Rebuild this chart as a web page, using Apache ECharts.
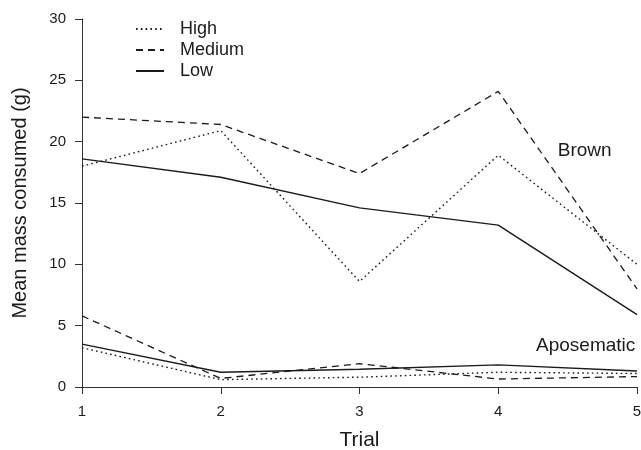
<!DOCTYPE html>
<html><head><meta charset="utf-8">
<script src="https://cdn.jsdelivr.net/npm/echarts@6/dist/echarts.min.js"></script>
<style>html,body{margin:0;padding:0;background:#fff}#c{width:641px;height:450px}</style>
</head><body><div id="c"></div>
<script>
var trials = [1, 2, 3, 4, 5];
var yTicks = [0, 5, 10, 15, 20, 25, 30];
var brownHigh = [18.0, 20.9, 8.6, 18.9, 10.0];
var brownMedium = [22.0, 21.4, 17.4, 24.1, 8.0];
var brownLow = [18.6, 17.1, 14.6, 13.2, 5.9];
var aposHigh = [3.2, 0.6, 0.8, 1.2, 1.1];
var aposMedium = [5.8, 0.7, 1.9, 0.65, 0.85];
var aposLow = [3.5, 1.2, 1.45, 1.8, 1.3];
var levelNames = ['High', 'Medium', 'Low'];
var groupLabels = ['Brown', 'Aposematic'];
var groupLabelAnchors = [[4.623, 19.26], [4.63, 3.38]];

var F = 'Liberation Sans, Arial, Helvetica, sans-serif';
var C = '#1a1a1a';
var styles = {
  High: {type: [1.6, 3.2], width: 1.4},
  Medium: {type: [7, 5], width: 1.3},
  Low: {type: 'solid', width: 1.4}
};
function pairs(v){ return trials.map(function(t,i){return [t, v[i]];}); }
function mk(name, vals){
  return {
    name: name, type: 'line', data: pairs(vals), symbol: 'none',
    lineStyle: {color: C, width: styles[name].width, type: styles[name].type},
    itemStyle: {color: C}, silent: true, animation: false
  };
}
var series = [
  mk('High', brownHigh), mk('Medium', brownMedium), mk('Low', brownLow),
  mk('High', aposHigh), mk('Medium', aposMedium), mk('Low', aposLow),
  {
    type: 'scatter', symbolSize: 0, silent: true, animation: false,
    itemStyle: {opacity: 1, color: C},
    data: groupLabelAnchors.map(function(p,i){return {value: p, name: groupLabels[i]};}),
    label: {show: true, formatter: '{b}', position: 'inside', color: C, opacity: 1, fontSize: 19, fontFamily: F}
  }
];
var chart = echarts.init(document.getElementById('c'), null, {renderer: 'canvas'});
chart.setOption({
  animation: false,
  backgroundColor: '#fff',
  grid: {left: 82, right: 4, top: 19, bottom: 63, containLabel: false, outerBoundsMode: 'none'},
  legend: {
    data: levelNames, orient: 'vertical', left: 135, top: 20, padding: 0,
    itemWidth: 28, itemHeight: 12, itemGap: 3,
    itemStyle: {color: 'rgba(0,0,0,0)', borderWidth: 0, opacity: 0},
    textStyle: {color: C, fontSize: 18, fontFamily: F, padding: [0,0,0,11]}
  },
  xAxis: {
    type: 'value', min: 1, max: 5, interval: 1,
    name: 'Trial', nameLocation: 'middle', nameGap: 43,
    nameTextStyle: {color: C, fontSize: 21, fontFamily: F},
    axisLine: {show: true, lineStyle: {color: '#333', width: 1}},
    axisTick: {show: true, length: 7, lineStyle: {color: '#333'}},
    axisLabel: {color: C, fontSize: 15, fontFamily: F, margin: 17, showMaxLabel: true},
    splitLine: {show: false}
  },
  yAxis: {
    type: 'value', min: 0, max: 30, interval: 5,
    name: 'Mean mass consumed (g)', nameLocation: 'middle', nameGap: 52,
    nameTextStyle: {color: C, fontSize: 20, fontFamily: F},
    axisLine: {show: true, lineStyle: {color: '#333', width: 1}},
    axisTick: {show: true, length: 7, lineStyle: {color: '#333'}},
    axisLabel: {color: C, fontSize: 15, fontFamily: F, margin: 16,
      formatter: function(v){ return yTicks.indexOf(v) >= 0 ? String(v) : ''; }},
    splitLine: {show: false}
  },
  series: series
});
</script></body></html>
